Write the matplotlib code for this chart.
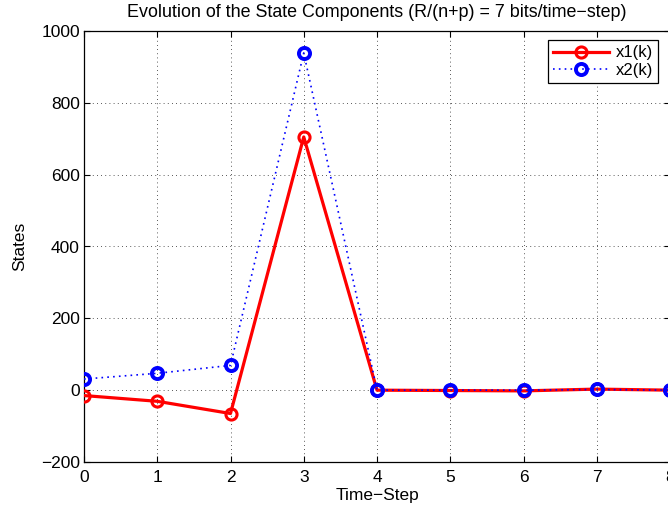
import matplotlib
matplotlib.use('Agg')
import matplotlib.pyplot as plt
import numpy as np

plt.rcParams['font.family'] = ['Liberation Sans', 'DejaVu Sans']
plt.rcParams['font.size'] = 12.5

# state trajectories
k = [0, 1, 2, 3, 4, 5, 6, 7, 8]
x1 = [-15, -31, -65, 705, 0, -1, -2, 3, 0]
x2 = [31, 47, 69, 939, 0, 0, 0, 2, 0]

xticks = [0, 1, 2, 3, 4, 5, 6, 7, 8]
yticks = [-200, 0, 200, 400, 600, 800, 1000]

fig = plt.figure(figsize=(6.68, 5.11), dpi=100)
fig.patch.set_facecolor('white')
# axes run slightly past the right border
ax = fig.add_axes([84 / 668, 49 / 511, 586 / 668, 431 / 511])

ax.plot(k, x1, color='#ff0000', linewidth=2.3, marker='o', markersize=8,
        markerfacecolor='none', markeredgecolor='#ff0000', markeredgewidth=2.2,
        label='x1(k)', zorder=3)
ax.plot(k, x2, color='#0000ff', linewidth=1.2, linestyle=(0, (1, 2.5)), marker='o',
        markersize=8, markerfacecolor='none', markeredgecolor='#0000ff',
        markeredgewidth=2.8, label='x2(k)', zorder=4)

ax.set_xlim(0, 8)
ax.set_ylim(-200, 1000)
ax.set_xticks(xticks)
ax.set_yticks(yticks)
ax.set_yticklabels(['\u2212200', '0', '200', '400', '600', '800', '1000'])
ax.tick_params(direction='in', top=True, right=True, length=4, width=0.8, pad=3)
ax.tick_params(axis='x', pad=6)
ax.grid(True, linestyle=(0, (1, 4)), color='#222222', linewidth=0.6)
for s in ax.spines.values():
    s.set_linewidth(0.9)

ax.set_xlabel('Time\u2212Step', labelpad=2)
ax.set_ylabel('States', labelpad=10)
ax.set_title('Evolution of the State Components (R/(n+p) = 7 bits/time\u2212step)',
             fontsize=12.9, pad=10)

leg = ax.legend(loc='upper right', bbox_to_anchor=(0.98, 0.978), fancybox=False,
                edgecolor='black', framealpha=1, fontsize=12, handlelength=3.4,
                borderpad=0.3, labelspacing=0.15, handletextpad=0.4, borderaxespad=0)
leg.get_frame().set_linewidth(0.9)

fig.savefig('out.png', dpi=100)
